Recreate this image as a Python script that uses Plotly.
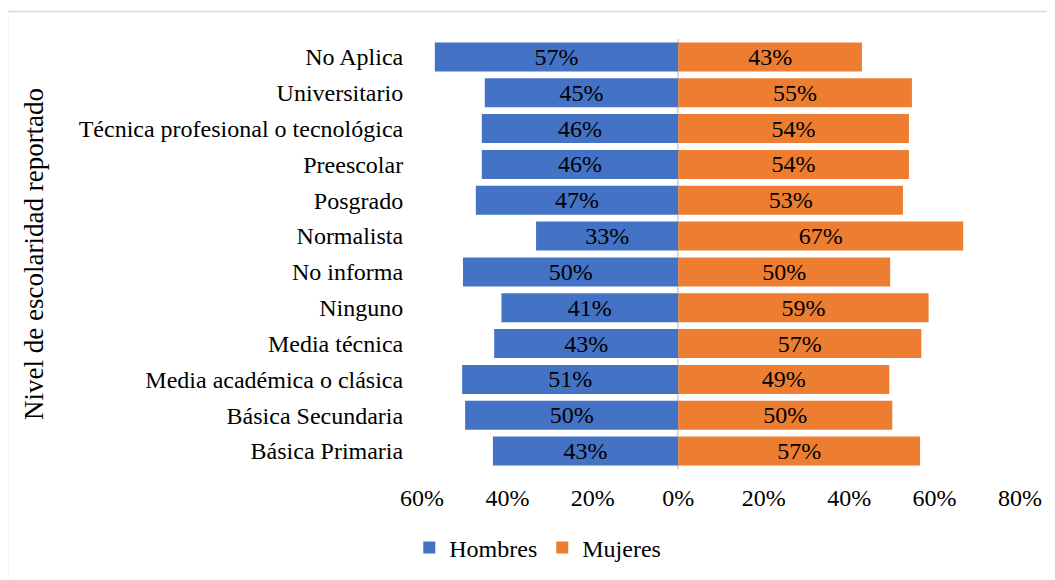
import plotly.graph_objects as go

categories = [
    "Básica Primaria", "Básica Secundaria", "Media académica o clásica",
    "Media técnica", "Ninguno", "No informa", "Normalista", "Posgrado",
    "Preescolar", "Técnica profesional o tecnológica", "Universitario", "No Aplica",
]
hombres = [43.4, 49.9, 50.6, 43.1, 41.4, 50.4, 33.3, 47.4, 46.0, 46.0, 45.3, 57.0]
mujeres = [56.6, 50.1, 49.4, 56.9, 58.6, 49.6, 66.7, 52.6, 54.0, 54.0, 54.7, 43.0]
tick_vals = [-60, -40, -20, 0, 20, 40, 60, 80]
tick_text = ["60%", "40%", "20%", "0%", "20%", "40%", "60%", "80%"]

FONT = "Liberation Serif"
OFF = 8  # page body margin
W, H = 1055 - OFF, 580 - OFF
L, T = 422 - OFF, 39 - OFF
R = W - (1020 - OFF)
B = H - (469 - OFF)
pw, ph = W - L - R, H - T - B

fig = go.Figure()
fig.add_trace(go.Bar(
    y=categories, x=[-v for v in hombres], orientation="h", name="Hombres",
    marker=dict(color="#4472C4", line=dict(width=0)),
    text=[f"{round(v)}%" for v in hombres], textposition="inside",
    insidetextanchor="middle", constraintext="none",
    textfont=dict(family=FONT, size=24, color="#000000"),
    hoverinfo="skip",
))
fig.add_trace(go.Bar(
    y=categories, x=mujeres, orientation="h", name="Mujeres",
    marker=dict(color="#ED7D31", line=dict(width=0)),
    text=[f"{round(v)}%" for v in mujeres], textposition="inside",
    insidetextanchor="middle", constraintext="none",
    textfont=dict(family=FONT, size=24, color="#000000"),
    hoverinfo="skip",
))

fig.update_layout(
    width=W, height=H,
    margin=dict(l=L, r=R, t=T, b=B),
    barmode="relative", bargap=0.19,
    plot_bgcolor="white", paper_bgcolor="white",
    font=dict(family=FONT, size=24, color="#000000"),
    uniformtext=dict(minsize=24, mode="show"),
    showlegend=True,
    legend=dict(orientation="h", xref="container", yref="container",
                x=0.506, xanchor="center", y=0.056, yanchor="middle",
                font=dict(family=FONT, size=24), itemwidth=30, traceorder="normal"),
    xaxis=dict(range=[-60, 80], tickvals=tick_vals, ticktext=tick_text,
               showgrid=False, zeroline=True, zerolinecolor="#D9D9D9", zerolinewidth=2,
               showline=False, ticks="outside", ticklen=7, tickcolor="rgba(0,0,0,0)",
               tickfont=dict(family=FONT, size=24)),
    yaxis=dict(showgrid=False, showline=False, ticks="outside", ticklen=13,
               tickcolor="rgba(0,0,0,0)", tickfont=dict(family=FONT, size=24)),
    annotations=[dict(text="Nivel de escolaridad reportado", textangle=-90,
                      xref="paper", yref="paper",
                      x=(34 - 422) / pw, y=0.5, xanchor="center", yanchor="middle",
                      showarrow=False, font=dict(family=FONT, size=27))],
    shapes=[dict(type="rect", xref="paper", yref="paper",
                 x0=(7.5 - 422) / pw, x1=(1070 - 422) / pw,
                 y0=1 + (39 - 11.5) / ph, y1=-(B + 20) / ph,
                 line=dict(color="#D9D9D9", width=1.5), layer="below")],
)

fig.write_html("out.html")
